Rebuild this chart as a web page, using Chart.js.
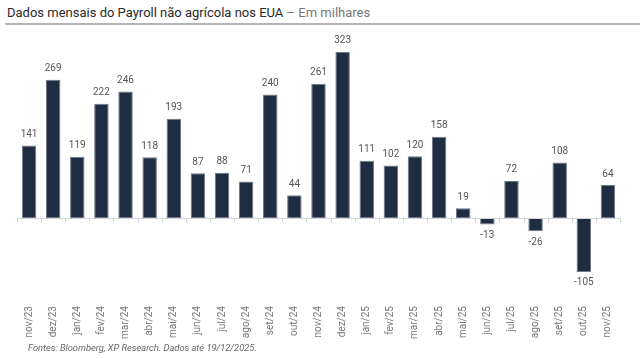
<!DOCTYPE html>
<html>
<head>
<meta charset="utf-8">
<script src="https://cdn.jsdelivr.net/npm/chart.js@4"></script>
<style>
  html, body { margin: 0; padding: 0; background: #fff; }
  body { width: 640px; height: 358px; position: relative; overflow: hidden; font-family: Roboto, sans-serif; }
  #title { position: absolute; left: 7px; top: 5px; font-size: 13px; color: #2a2a2a; white-space: nowrap; }
  #title span { color: #777; }
  #rule { position: absolute; left: 5px; right: 0; top: 23px; height: 2px; background: #b4b4b4; }
  #wrap { position: absolute; left: 0; top: 0; width: 640px; height: 358px; }
  #footer { position: absolute; left: 28px; top: 342px; font-size: 9.3px; font-style: italic; color: #666; }
</style>
</head>
<body>
<div id="title">Dados mensais do Payroll não agrícola nos EUA <span>– Em milhares</span></div>
<div id="rule"></div>
<div id="wrap"><canvas id="barChart" width="640" height="358"></canvas></div>
<div id="footer">Fontes: Bloomberg, XP Research. Dados até 19/12/2025.</div>
<script>
// meses e variação do payroll (milhares)
var months = ['nov/23', 'dez/23', 'jan/24', 'fev/24', 'mar/24', 'abr/24', 'mai/24', 'jun/24', 'jul/24',
    'ago/24', 'set/24', 'out/24', 'nov/24', 'dez/24', 'jan/25', 'fev/25', 'mar/25', 'abr/25', 'mai/25',
    'jun/25', 'jul/25', 'ago/25', 'set/25', 'out/25', 'nov/25'];
var payroll = [141, 269, 119, 222, 246, 118, 193, 87, 88, 71, 240, 44, 261, 323, 111, 102, 120, 158, 19,
    -13, 72, -26, 108, -105, 64];

// linha do zero com marquinhas + rótulos de valor
var extras = {
    id: 'extras',
    afterDatasetsDraw: function (chart) {
        var ctx = chart.ctx;
        var x = chart.scales.x, y = chart.scales.y;
        var y0 = Math.round(y.getPixelForValue(0)) + 0.5;
        ctx.save();
        ctx.strokeStyle = '#d4d4d4';
        ctx.lineWidth = 1;
        ctx.beginPath();
        ctx.moveTo(chart.chartArea.left, y0);
        ctx.lineTo(chart.chartArea.right, y0);
        for (var i = 0; i <= months.length; i++) {
            var px = Math.round(x.getPixelForValue(i - 0.5)) + 0.5;
            ctx.moveTo(px, y0);
            ctx.lineTo(px, y0 + 4);
        }
        ctx.stroke();

        ctx.fillStyle = '#555';
        ctx.font = '10px Roboto';
        ctx.textAlign = 'center';
        chart.getDatasetMeta(0).data.forEach(function (bar, i) {
            var v = payroll[i];
            if (v >= 0) {
                ctx.textBaseline = 'bottom';
                ctx.fillText(v, bar.x, bar.y - 6);
            } else {
                ctx.textBaseline = 'top';
                ctx.fillText(v, bar.x, bar.y + 6);
            }
        });
        ctx.restore();
    }
};

var ctxBar = document.getElementById('barChart').getContext('2d');
var barChart = new Chart(ctxBar, {
    type: 'bar',
    data: {
        labels: months,
        datasets: [{
            data: payroll,
            backgroundColor: '#1f2d43',
            borderColor: '#6f7886',
            borderWidth: 1,
            borderSkipped: false,
            barPercentage: 0.6,
            categoryPercentage: 1
        }]
    },
    options: {
        responsive: false,
        animation: false,
        layout: { padding: { top: 38, left: 17, right: 20, bottom: 16 } },
        plugins: { legend: { display: false }, tooltip: { enabled: false } },
        scales: {
            x: {
                grid: { display: false },
                border: { display: false },
                ticks: {
                    color: '#777',
                    font: { family: 'Roboto', size: 10 },
                    minRotation: 90,
                    maxRotation: 90,
                    padding: 3
                }
            },
            y: {
                display: false,
                min: -150,
                max: 350
            }
        }
    },
    plugins: [extras]
});
</script>
</body>
</html>
